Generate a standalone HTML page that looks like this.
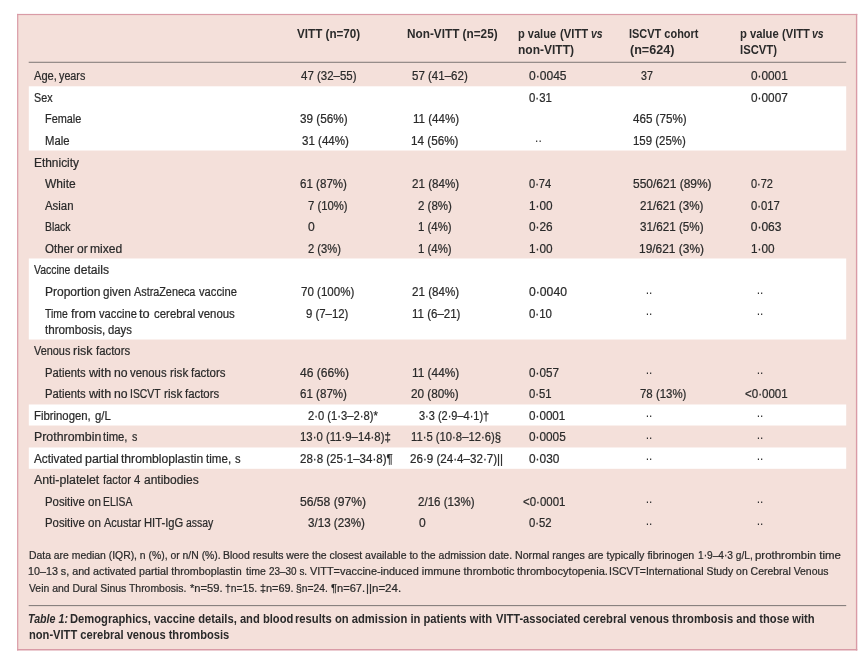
<!DOCTYPE html>
<html><head><meta charset="utf-8"><title>Table 1</title>
<style>
html,body{margin:0;padding:0;background:#fff}
#wrap{position:relative;width:864px;height:662px;overflow:hidden;background:#fff}
#box{position:absolute;left:17.2px;top:14px;width:840px;height:636.4px;background:#f4e0da}
.bd{position:absolute;background:#d99ba6}
.w{position:absolute;left:28.8px;width:817.4px;background:#fff}
.r{position:absolute;left:29px;width:817px;height:1px;background:#6e6a69}
span.t{position:absolute;white-space:nowrap;line-height:20px;height:20px;transform-origin:0 0;font-family:"Liberation Sans", sans-serif;color:#2a2a2a}.b{font-size:12px;font-weight:normal;font-style:normal;-webkit-text-stroke:0.22px #2a2a2a;}.h{font-size:12px;font-weight:bold;font-style:normal;}.f{font-size:11px;font-weight:normal;font-style:normal;-webkit-text-stroke:0.22px #2a2a2a;}.c{font-size:12px;font-weight:bold;font-style:normal;}.ci{font-size:12px;font-weight:bold;font-style:italic;}.hi{font-size:12px;font-weight:bold;font-style:italic;}.d{font-size:12px;font-weight:normal;font-style:normal;}
</style></head><body><div id="wrap">
<svg width="864" height="662" viewBox="0 0 864 662" style="position:absolute;left:0;top:0">
<rect x="17.6" y="14.4" width="839.2" height="635.6" fill="#f4e0da"/>
<rect x="17.1" y="13.9" width="840.2" height="1.2" fill="#d99ba6"/>
<rect x="17.1" y="649" width="840.2" height="1.5" fill="#d99ba6"/>
<rect x="17.1" y="13.9" width="1.2" height="636.6" fill="#d99ba6"/>
<rect x="855.9" y="13.9" width="1.4" height="636.6" fill="#d99ba6"/>
<rect x="28.8" y="86.3" width="817.4" height="64.2" fill="#fff"/>
<rect x="28.8" y="258.5" width="817.4" height="81" fill="#fff"/>
<rect x="28.8" y="404.5" width="817.4" height="21" fill="#fff"/>
<rect x="28.8" y="447.5" width="817.4" height="21.3" fill="#fff"/>
<rect x="28.7" y="61.8" width="817.5" height="0.9" fill="#6e6a69"/>
<rect x="28.7" y="605.2" width="817.5" height="0.9" fill="#6e6a69"/>
</svg>
<span class="t h" style="left:296.95px;top:24.00px;transform:scaleX(0.9716)">VITT (n=70)</span>
<span class="t h" style="left:407.14px;top:24.00px;transform:scaleX(0.9812)">Non-VITT (n=25)</span>
<span class="t h" style="left:518.28px;top:24.00px;transform:scaleX(0.9213)">p value</span>
<span class="t h" style="left:559.81px;top:24.00px;transform:scaleX(0.9402)">(VITT</span>
<span class="t hi" style="left:591.35px;top:24.00px;transform:scaleX(0.8731)">vs</span>
<span class="t h" style="left:517.98px;top:40.25px;transform:scaleX(1.0004)">non-VITT)</span>
<span class="t h" style="left:629.38px;top:24.00px;transform:scaleX(0.9142)">ISCVT cohort</span>
<span class="t h" style="left:629.91px;top:40.25px;transform:scaleX(1.0476)">(n=624)</span>
<span class="t h" style="left:739.62px;top:24.00px;transform:scaleX(0.9365)">p value</span>
<span class="t h" style="left:781.84px;top:24.00px;transform:scaleX(0.9312)">(VITT</span>
<span class="t hi" style="left:812.24px;top:24.00px;transform:scaleX(0.8731)">vs</span>
<span class="t h" style="left:740.29px;top:40.25px;transform:scaleX(0.9389)">ISCVT)</span>
<span class="t b" style="left:34.00px;top:66.25px;transform:scaleX(0.9263)">Age,</span>
<span class="t b" style="left:59.00px;top:66.25px;transform:scaleX(0.8966)">years</span>
<span class="t b" style="left:33.84px;top:87.75px;transform:scaleX(0.8950)">Sex</span>
<span class="t b" style="left:45.15px;top:109.25px;transform:scaleX(0.9075)">Female</span>
<span class="t b" style="left:44.96px;top:130.75px;transform:scaleX(0.9429)">Male</span>
<span class="t b" style="left:33.61px;top:152.75px;transform:scaleX(0.9918)">Ethnicity</span>
<span class="t b" style="left:45.00px;top:174.25px;transform:scaleX(1.0004)">White</span>
<span class="t b" style="left:45.00px;top:195.75px;transform:scaleX(0.9492)">Asian</span>
<span class="t b" style="left:44.82px;top:217.25px;transform:scaleX(0.8698)">Black</span>
<span class="t b" style="left:44.57px;top:238.75px;transform:scaleX(0.9618)">Other</span>
<span class="t b" style="left:76.64px;top:238.75px;transform:scaleX(1.0030)">or</span>
<span class="t b" style="left:89.55px;top:238.75px;transform:scaleX(1.0066)">mixed</span>
<span class="t b" style="left:33.79px;top:260.25px;transform:scaleX(0.8713)">Vaccine</span>
<span class="t b" style="left:73.69px;top:260.25px;transform:scaleX(1.0081)">details</span>
<span class="t b" style="left:44.55px;top:282.05px;transform:scaleX(0.9997)">Proportion</span>
<span class="t b" style="left:102.74px;top:282.05px;transform:scaleX(0.9726)">given</span>
<span class="t b" style="left:134.00px;top:282.05px;transform:scaleX(0.9019)">AstraZeneca</span>
<span class="t b" style="left:199.00px;top:282.05px;transform:scaleX(0.9329)">vaccine</span>
<span class="t b" style="left:44.92px;top:303.75px;transform:scaleX(0.8694)">Time</span>
<span class="t b" style="left:70.96px;top:303.75px;transform:scaleX(1.0406)">from</span>
<span class="t b" style="left:99.00px;top:303.75px;transform:scaleX(0.9310)">vaccine</span>
<span class="t b" style="left:139.32px;top:303.75px;transform:scaleX(1.0658)">to</span>
<span class="t b" style="left:153.73px;top:303.75px;transform:scaleX(0.9525)">cerebral</span>
<span class="t b" style="left:198.00px;top:303.75px;transform:scaleX(0.9518)">venous</span>
<span class="t b" style="left:34.00px;top:341.25px;transform:scaleX(0.9077)">Venous</span>
<span class="t b" style="left:73.46px;top:341.25px;transform:scaleX(1.0375)">risk</span>
<span class="t b" style="left:95.82px;top:341.25px;transform:scaleX(0.9485)">factors</span>
<span class="t b" style="left:44.96px;top:362.75px;transform:scaleX(0.9388)">Patients</span>
<span class="t b" style="left:89.01px;top:362.75px;transform:scaleX(1.0463)">with</span>
<span class="t b" style="left:113.52px;top:362.75px;transform:scaleX(1.0188)">no</span>
<span class="t b" style="left:130.00px;top:362.75px;transform:scaleX(0.9448)">venous</span>
<span class="t b" style="left:169.64px;top:362.75px;transform:scaleX(0.9792)">risk</span>
<span class="t b" style="left:190.82px;top:362.75px;transform:scaleX(0.9572)">factors</span>
<span class="t b" style="left:44.96px;top:384.25px;transform:scaleX(0.9388)">Patients</span>
<span class="t b" style="left:89.01px;top:384.25px;transform:scaleX(1.0463)">with</span>
<span class="t b" style="left:113.52px;top:384.25px;transform:scaleX(1.0188)">no</span>
<span class="t b" style="left:130.14px;top:384.25px;transform:scaleX(0.8642)">ISCVT</span>
<span class="t b" style="left:163.64px;top:384.25px;transform:scaleX(0.9792)">risk</span>
<span class="t b" style="left:184.82px;top:384.25px;transform:scaleX(0.9485)">factors</span>
<span class="t b" style="left:33.91px;top:405.75px;transform:scaleX(0.9445)">Fibrinogen,</span>
<span class="t b" style="left:94.79px;top:405.75px;transform:scaleX(0.9486)">g/L</span>
<span class="t b" style="left:34.03px;top:427.25px;transform:scaleX(1.0305)">Prothrombin</span>
<span class="t b" style="left:102.85px;top:427.25px;transform:scaleX(0.9411)">time,</span>
<span class="t b" style="left:131.96px;top:427.25px;transform:scaleX(0.8897)">s</span>
<span class="t b" style="left:34.00px;top:448.75px;transform:scaleX(0.9796)">Activated</span>
<span class="t b" style="left:84.52px;top:448.75px;transform:scaleX(1.0348)">partial</span>
<span class="t b" style="left:120.82px;top:448.75px;transform:scaleX(1.0100)">thrombloplastin</span>
<span class="t b" style="left:205.85px;top:448.75px;transform:scaleX(0.9658)">time,</span>
<span class="t b" style="left:234.92px;top:448.75px;transform:scaleX(0.9312)">s</span>
<span class="t b" style="left:34.00px;top:470.25px;transform:scaleX(1.0303)">Anti-platelet</span>
<span class="t b" style="left:102.82px;top:470.25px;transform:scaleX(0.9314)">factor</span>
<span class="t b" style="left:133.78px;top:470.25px;transform:scaleX(0.9444)">4</span>
<span class="t b" style="left:143.82px;top:470.25px;transform:scaleX(0.9988)">antibodies</span>
<span class="t b" style="left:44.95px;top:491.75px;transform:scaleX(0.9461)">Positive</span>
<span class="t b" style="left:87.76px;top:491.75px;transform:scaleX(0.9668)">on</span>
<span class="t b" style="left:102.63px;top:491.75px;transform:scaleX(0.8650)">ELISA</span>
<span class="t b" style="left:44.95px;top:513.25px;transform:scaleX(0.9461)">Positive</span>
<span class="t b" style="left:87.76px;top:513.25px;transform:scaleX(0.9668)">on</span>
<span class="t b" style="left:104.00px;top:513.25px;transform:scaleX(0.9141)">Acustar</span>
<span class="t b" style="left:144.20px;top:513.25px;transform:scaleX(0.9339)">HIT-IgG</span>
<span class="t b" style="left:185.82px;top:513.25px;transform:scaleX(0.8686)">assay</span>
<span class="t b" style="left:44.85px;top:319.75px;transform:scaleX(0.9722)">thrombosis,</span>
<span class="t b" style="left:107.80px;top:319.75px;transform:scaleX(0.9426)">days</span>
<span class="t b" style="left:300.76px;top:66.25px;transform:scaleX(0.9555)">47 (32–55)</span>
<span class="t b" style="left:300.49px;top:109.25px;transform:scaleX(0.9763)">39 (56%)</span>
<span class="t b" style="left:301.52px;top:130.75px;transform:scaleX(0.9638)">31 (44%)</span>
<span class="t b" style="left:300.43px;top:174.25px;transform:scaleX(0.9648)">61 (87%)</span>
<span class="t b" style="left:307.72px;top:195.75px;transform:scaleX(0.9421)">7 (10%)</span>
<span class="t b" style="left:308.01px;top:217.25px;transform:scaleX(1.0080)">0</span>
<span class="t b" style="left:307.53px;top:238.75px;transform:scaleX(0.9335)">2 (3%)</span>
<span class="t b" style="left:300.67px;top:282.05px;transform:scaleX(0.9616)">70 (100%)</span>
<span class="t b" style="left:306.48px;top:303.75px;transform:scaleX(0.9484)">9 (7–12)</span>
<span class="t b" style="left:299.75px;top:362.75px;transform:scaleX(1.0059)">46 (66%)</span>
<span class="t b" style="left:300.43px;top:384.25px;transform:scaleX(0.9648)">61 (87%)</span>
<span class="t b" style="left:307.53px;top:405.75px;transform:scaleX(0.9337)">2·0 (1·3–2·8)*</span>
<span class="t b" style="left:300.42px;top:427.25px;transform:scaleX(0.9470)">13·0 (11·9–14·8)‡</span>
<span class="t b" style="left:300.48px;top:448.75px;transform:scaleX(0.9602)">28·8 (25·1–34·8)¶</span>
<span class="t b" style="left:300.00px;top:491.75px;transform:scaleX(1.0115)">56/58 (97%)</span>
<span class="t b" style="left:307.50px;top:513.25px;transform:scaleX(0.9681)">3/13 (23%)</span>
<span class="t b" style="left:412.12px;top:66.25px;transform:scaleX(0.9611)">57 (41–62)</span>
<span class="t b" style="left:413.35px;top:109.25px;transform:scaleX(0.9653)">11 (44%)</span>
<span class="t b" style="left:411.30px;top:130.75px;transform:scaleX(0.9753)">14 (56%)</span>
<span class="t b" style="left:412.45px;top:174.25px;transform:scaleX(0.9676)">21 (84%)</span>
<span class="t b" style="left:418.47px;top:195.75px;transform:scaleX(0.9608)">2 (8%)</span>
<span class="t b" style="left:418.40px;top:217.25px;transform:scaleX(0.9519)">1 (4%)</span>
<span class="t b" style="left:418.40px;top:238.75px;transform:scaleX(0.9519)">1 (4%)</span>
<span class="t b" style="left:412.45px;top:282.05px;transform:scaleX(0.9676)">21 (84%)</span>
<span class="t b" style="left:412.38px;top:303.75px;transform:scaleX(0.9594)">11 (6–21)</span>
<span class="t b" style="left:412.21px;top:362.75px;transform:scaleX(0.9893)">11 (44%)</span>
<span class="t b" style="left:411.44px;top:384.25px;transform:scaleX(0.9805)">20 (80%)</span>
<span class="t b" style="left:418.62px;top:405.75px;transform:scaleX(0.9155)">3·3 (2·9–4·1)†</span>
<span class="t b" style="left:411.46px;top:427.25px;transform:scaleX(0.9386)">11·5 (10·8–12·6)§</span>
<span class="t b" style="left:410.46px;top:448.75px;transform:scaleX(0.9667)">26·9 (24·4–32·7)||</span>
<span class="t b" style="left:418.46px;top:491.75px;transform:scaleX(0.9629)">2/16 (13%)</span>
<span class="t b" style="left:419.01px;top:513.25px;transform:scaleX(1.0080)">0</span>
<span class="t b" style="left:529.04px;top:66.25px;transform:scaleX(1.0048)">0·0045</span>
<span class="t b" style="left:529.16px;top:87.75px;transform:scaleX(0.9491)">0·31</span>
<span class="t d" style="left:535.10px;top:128.35px;transform:scaleX(1.0000)">..</span>
<span class="t b" style="left:529.16px;top:174.25px;transform:scaleX(0.9245)">0·74</span>
<span class="t b" style="left:529.30px;top:195.75px;transform:scaleX(0.9812)">1·00</span>
<span class="t b" style="left:529.08px;top:217.25px;transform:scaleX(0.9862)">0·26</span>
<span class="t b" style="left:529.30px;top:238.75px;transform:scaleX(0.9812)">1·00</span>
<span class="t b" style="left:529.02px;top:282.05px;transform:scaleX(1.0157)">0·0040</span>
<span class="t b" style="left:529.11px;top:303.75px;transform:scaleX(0.9547)">0·10</span>
<span class="t b" style="left:529.09px;top:362.75px;transform:scaleX(0.9737)">0·057</span>
<span class="t b" style="left:529.13px;top:384.25px;transform:scaleX(0.9421)">0·51</span>
<span class="t b" style="left:529.09px;top:405.75px;transform:scaleX(0.9731)">0·0001</span>
<span class="t b" style="left:529.09px;top:427.25px;transform:scaleX(0.9829)">0·0005</span>
<span class="t b" style="left:529.07px;top:448.75px;transform:scaleX(0.9893)">0·030</span>
<span class="t b" style="left:522.64px;top:491.75px;transform:scaleX(0.9550)">&lt;0·0001</span>
<span class="t b" style="left:529.13px;top:513.25px;transform:scaleX(0.9437)">0·52</span>
<span class="t b" style="left:640.64px;top:66.25px;transform:scaleX(0.8853)">37</span>
<span class="t b" style="left:632.75px;top:109.25px;transform:scaleX(0.9684)">465 (75%)</span>
<span class="t b" style="left:633.39px;top:130.75px;transform:scaleX(0.9536)">159 (25%)</span>
<span class="t b" style="left:633.00px;top:174.25px;transform:scaleX(0.9984)">550/621 (89%)</span>
<span class="t b" style="left:640.44px;top:195.75px;transform:scaleX(0.9702)">21/621 (3%)</span>
<span class="t b" style="left:640.49px;top:217.25px;transform:scaleX(0.9717)">31/621 (5%)</span>
<span class="t b" style="left:639.21px;top:238.75px;transform:scaleX(0.9939)">19/621 (3%)</span>
<span class="t d" style="left:645.71px;top:279.65px;transform:scaleX(1.0000)">..</span>
<span class="t d" style="left:645.71px;top:301.35px;transform:scaleX(1.0000)">..</span>
<span class="t d" style="left:645.71px;top:360.35px;transform:scaleX(1.0000)">..</span>
<span class="t b" style="left:639.68px;top:384.25px;transform:scaleX(0.9520)">78 (13%)</span>
<span class="t d" style="left:645.71px;top:403.35px;transform:scaleX(1.0000)">..</span>
<span class="t d" style="left:645.71px;top:424.85px;transform:scaleX(1.0000)">..</span>
<span class="t d" style="left:645.71px;top:446.35px;transform:scaleX(1.0000)">..</span>
<span class="t d" style="left:645.71px;top:489.35px;transform:scaleX(1.0000)">..</span>
<span class="t d" style="left:645.71px;top:510.85px;transform:scaleX(1.0000)">..</span>
<span class="t b" style="left:751.09px;top:66.25px;transform:scaleX(0.9832)">0·0001</span>
<span class="t b" style="left:751.09px;top:87.75px;transform:scaleX(0.9846)">0·0007</span>
<span class="t b" style="left:751.21px;top:174.25px;transform:scaleX(0.9149)">0·72</span>
<span class="t b" style="left:751.17px;top:195.75px;transform:scaleX(0.9398)">0·017</span>
<span class="t b" style="left:750.75px;top:217.25px;transform:scaleX(1.0000)">0·063</span>
<span class="t b" style="left:751.30px;top:238.75px;transform:scaleX(0.9812)">1·00</span>
<span class="t d" style="left:756.71px;top:279.65px;transform:scaleX(1.0000)">..</span>
<span class="t d" style="left:756.71px;top:301.35px;transform:scaleX(1.0000)">..</span>
<span class="t d" style="left:756.71px;top:360.35px;transform:scaleX(1.0000)">..</span>
<span class="t b" style="left:744.63px;top:384.25px;transform:scaleX(0.9620)">&lt;0·0001</span>
<span class="t d" style="left:756.71px;top:403.35px;transform:scaleX(1.0000)">..</span>
<span class="t d" style="left:756.71px;top:424.85px;transform:scaleX(1.0000)">..</span>
<span class="t d" style="left:756.71px;top:446.35px;transform:scaleX(1.0000)">..</span>
<span class="t d" style="left:756.71px;top:489.35px;transform:scaleX(1.0000)">..</span>
<span class="t d" style="left:756.71px;top:510.85px;transform:scaleX(1.0000)">..</span>
<span class="t f" style="left:29.27px;top:545.00px;transform:scaleX(0.9446)">Data are median (IQR), n (%), or n/N (%).</span>
<span class="t f" style="left:222.66px;top:545.00px;transform:scaleX(0.9502)">Blood results were</span>
<span class="t f" style="left:311.70px;top:545.00px;transform:scaleX(0.9538)">the closest available to the admission date.</span>
<span class="t f" style="left:515.38px;top:545.00px;transform:scaleX(0.9683)">Normal ranges</span>
<span class="t f" style="left:587.82px;top:545.00px;transform:scaleX(0.9713)">are typically fibrinogen</span>
<span class="t f" style="left:697.79px;top:545.00px;transform:scaleX(0.9232)">1·9–4·3 g/L,</span>
<span class="t f" style="left:754.82px;top:545.00px;transform:scaleX(1.0401)">prothrombin time</span>
<span class="t f" style="left:28.46px;top:561.25px;transform:scaleX(0.9762)">10–13 s, and activated partial thromboplastin</span>
<span class="t f" style="left:245.50px;top:561.25px;transform:scaleX(0.9561)">time</span>
<span class="t f" style="left:269.35px;top:561.25px;transform:scaleX(0.9031)">23–30 s.</span>
<span class="t f" style="left:309.60px;top:561.25px;transform:scaleX(0.9909)">VITT=vaccine-induced immune thrombotic</span>
<span class="t f" style="left:517.09px;top:561.25px;transform:scaleX(1.0040)">thrombocytopenia.</span>
<span class="t f" style="left:609.45px;top:561.25px;transform:scaleX(0.9511)">ISCVT=International Study on Cerebral Venous</span>
<span class="t f" style="left:29.00px;top:577.50px;transform:scaleX(0.9470)">Vein and Dural Sinus Thrombosis.</span>
<span class="t f" style="left:189.77px;top:577.50px;transform:scaleX(1.0172)">*n=59.</span>
<span class="t f" style="left:225.24px;top:577.50px;transform:scaleX(0.9437)">†n=15.</span>
<span class="t f" style="left:259.92px;top:577.50px;transform:scaleX(0.9883)">‡n=69.</span>
<span class="t f" style="left:295.98px;top:577.50px;transform:scaleX(0.9358)">§n=24.</span>
<span class="t f" style="left:330.98px;top:577.50px;transform:scaleX(1.0122)">¶n=67.</span>
<span class="t f" style="left:366.41px;top:577.50px;transform:scaleX(1.0472)">||n=24.</span>
<span class="t ci" style="left:28.33px;top:608.65px;transform:scaleX(0.8908)">Table 1:</span>
<span class="t c" style="left:70.14px;top:608.65px;transform:scaleX(0.9331)">Demographics, vaccine details, and blood</span>
<span class="t c" style="left:295.04px;top:608.65px;transform:scaleX(0.9355)">results on admission in patients with</span>
<span class="t c" style="left:495.80px;top:608.65px;transform:scaleX(0.9236)">VITT-associated</span>
<span class="t c" style="left:582.82px;top:608.65px;transform:scaleX(0.9341)">cerebral venous thrombosis and those with</span>
<span class="t c" style="left:29.08px;top:625.15px;transform:scaleX(0.9268)">non-VITT cerebral venous thrombosis</span>
</div></body></html>
